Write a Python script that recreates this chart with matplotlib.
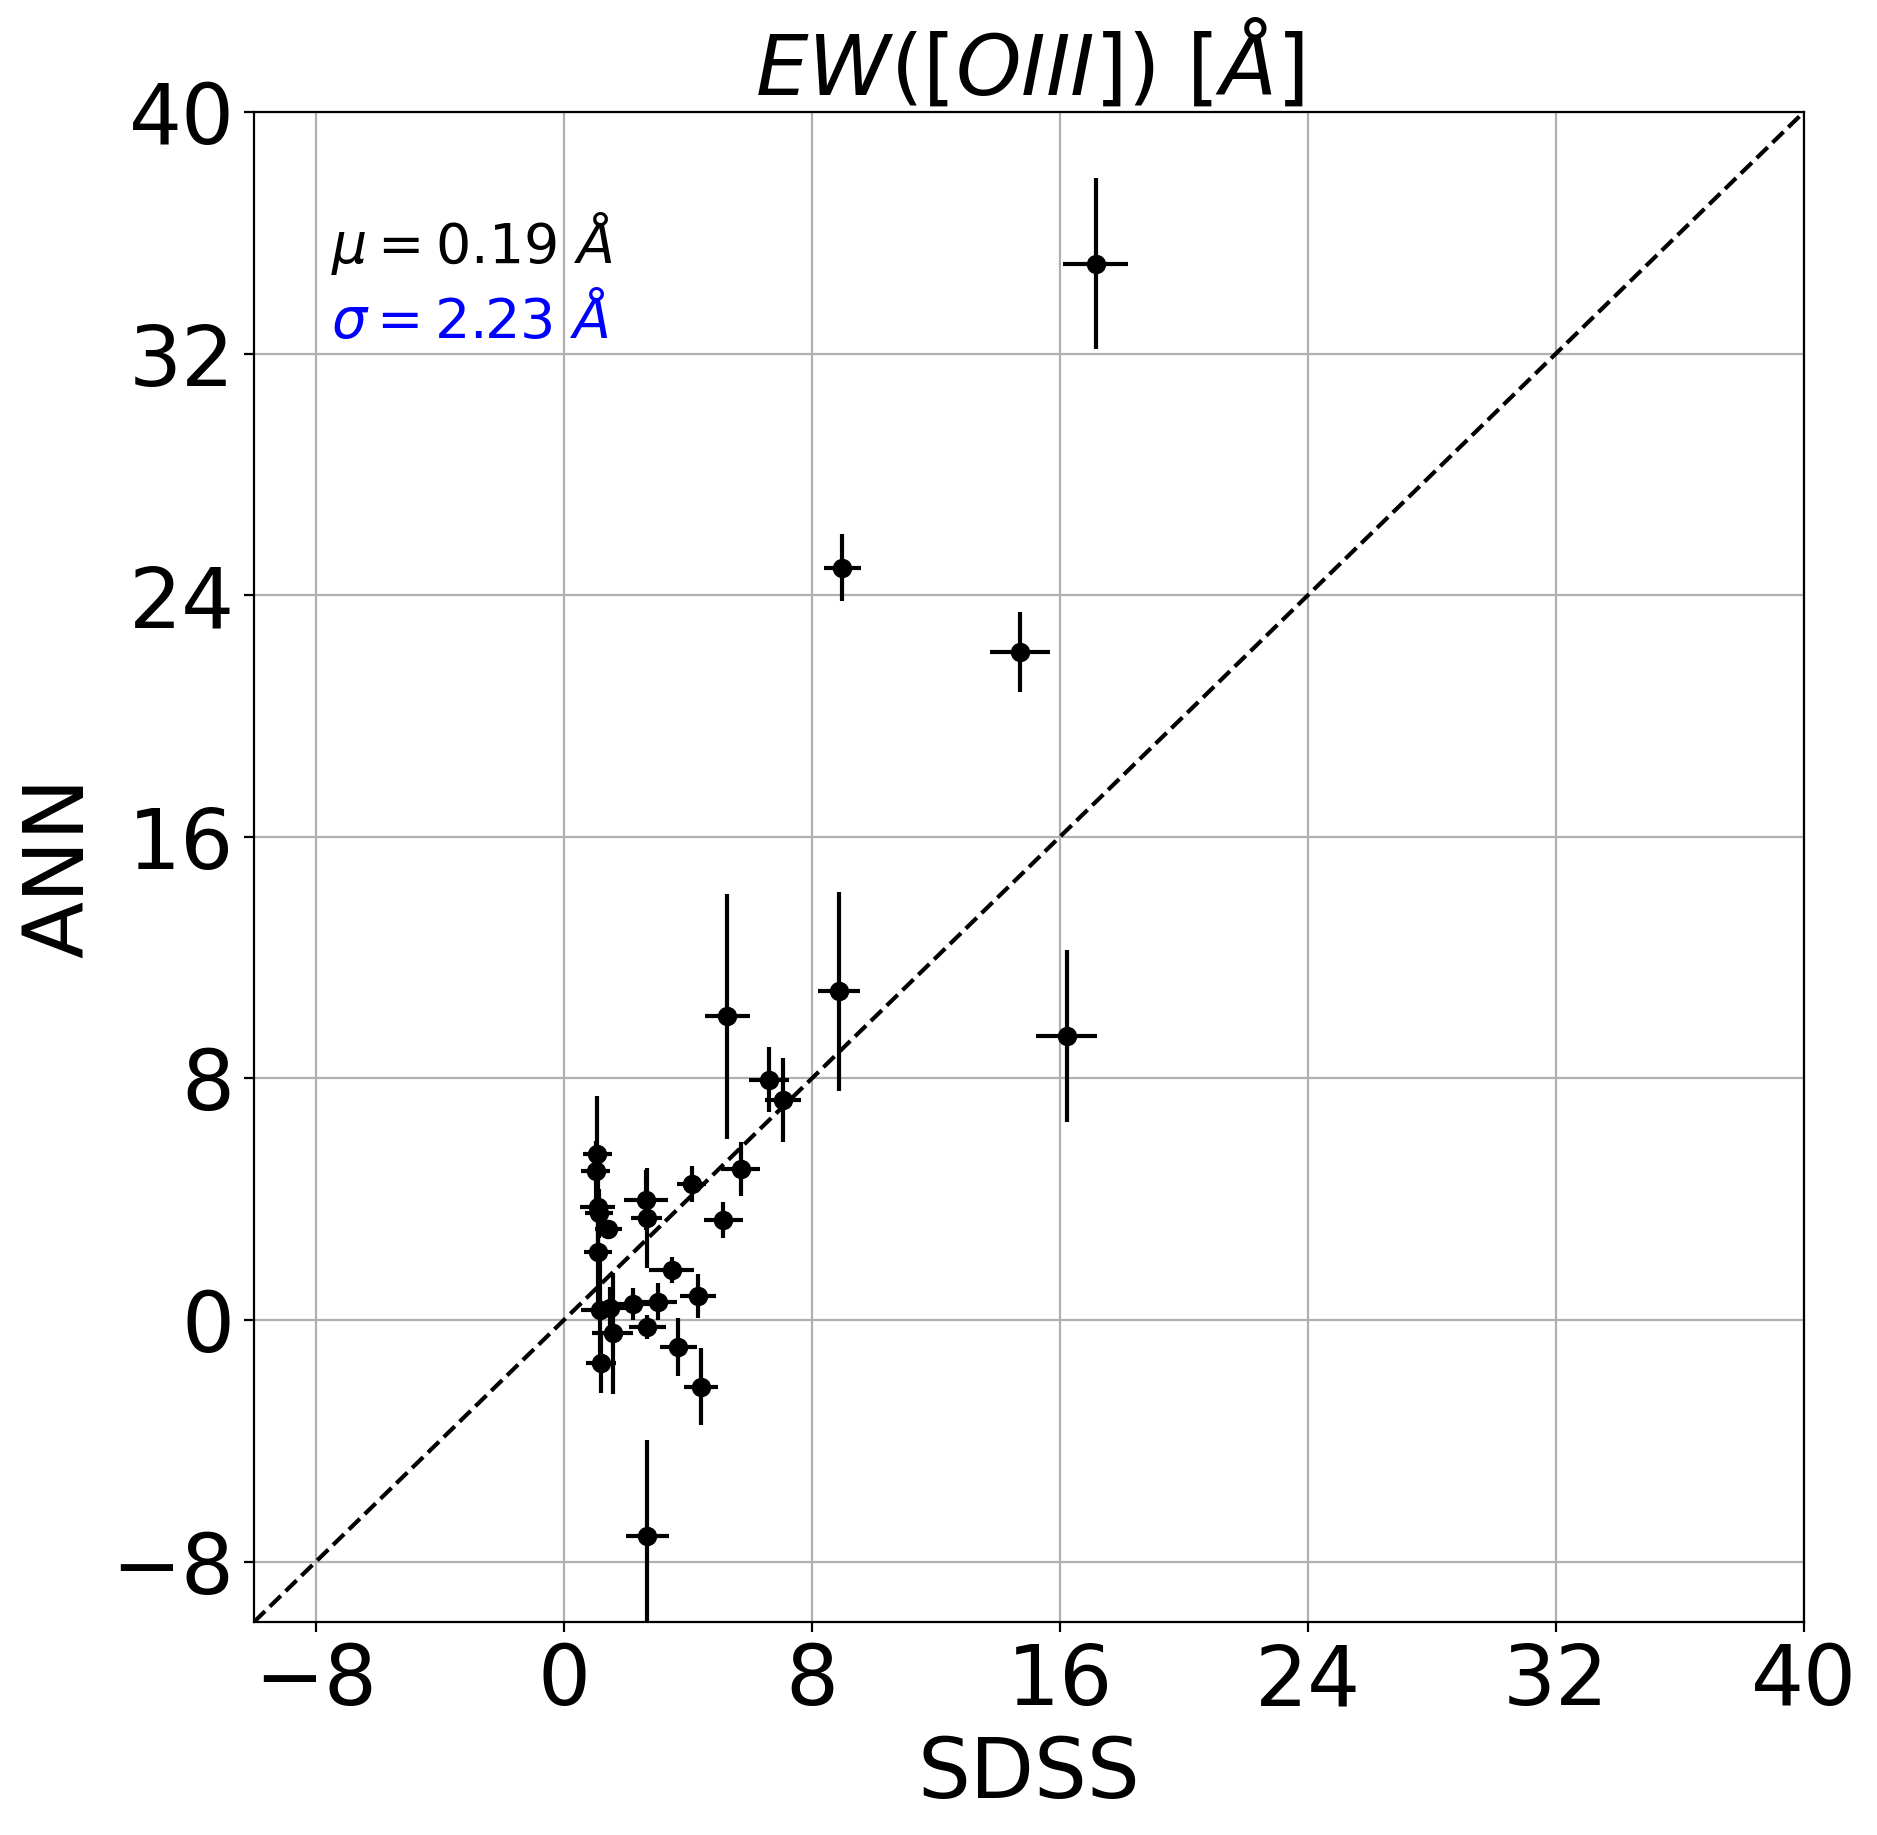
import matplotlib
matplotlib.use("Agg")
import matplotlib.pyplot as plt
import numpy as np

# SDSS vs ANN equivalent widths of [OIII]
sdss = [1.07, 1.03, 1.09, 1.12, 1.43, 1.09, 1.16, 1.48, 1.57, 1.19,
        2.24, 3.04, 2.65, 2.67, 2.69, 3.47, 4.33, 3.69, 4.42, 4.12,
        5.14, 5.70, 5.27, 6.61, 7.08, 8.87, 8.98, 14.71, 17.16, 16.22, 2.69]
ann = [5.50, 4.94, 3.75, 3.53, 3.01, 2.26, 0.33, 0.39, -0.44, -1.43,
       0.53, 0.61, 3.97, 3.37, -0.22, 1.65, 0.80, -0.89, -2.21, 4.49,
       3.31, 4.99, 10.05, 7.96, 7.27, 10.88, 24.91, 22.12, 34.98, 9.39, -7.17]
sdss_err = [0.47, 0.47, 0.56, 0.45, 0.43, 0.45, 0.60, 0.55, 0.65, 0.48,
            0.55, 0.62, 0.70, 0.50, 0.60, 0.73, 0.59, 0.59, 0.54, 0.46,
            0.63, 0.63, 0.73, 0.65, 0.58, 0.67, 0.59, 0.98, 1.05, 0.98, 0.69]
ann_err = [1.9, 1.0, 1.2, 0.8, 0.3, 2.0, 2.0, 0.7, 2.0, 1.0,
           0.52, 0.62, 1.0, 1.66, 0.40, 0.42, 0.73, 0.95, 1.27, 0.60,
           0.58, 0.90, 4.05, 1.07, 1.39, 3.3, 1.1, 1.32, 2.83, 2.85, 3.2]

lims = [-10, 40]
ticks = [-8, 0, 8, 16, 24, 32, 40]
mu = 0.19
sigma = 2.23

fig = plt.figure(figsize=(9.385, 9.175), dpi=200)
ax = fig.add_axes([0.1353, 0.1161, 0.8258, 0.8229])

ax.errorbar(sdss, ann, xerr=sdss_err, yerr=ann_err, fmt='ko', ecolor='k')
ax.plot(lims, lims, 'k--')

ax.text(-7.5, 35, r'$\mu = %.2f\ \AA$' % mu, fontsize=20, color='black')
ax.text(-7.5, 32.5, r'$\sigma = %.2f\ \AA$' % sigma, fontsize=20, color='blue')

ax.set_xlim(lims)
ax.set_ylim(lims)
ax.set_xticks(ticks)
ax.set_yticks(ticks)
ax.tick_params(labelsize=30)
ax.grid(True)

ax.set_xlabel('SDSS', fontsize=30)
ax.set_ylabel('ANN', fontsize=30)
ax.set_title(r'$EW([OIII])\ [\AA]$', fontsize=30, pad=2)

fig.savefig('out.png', dpi=200)
